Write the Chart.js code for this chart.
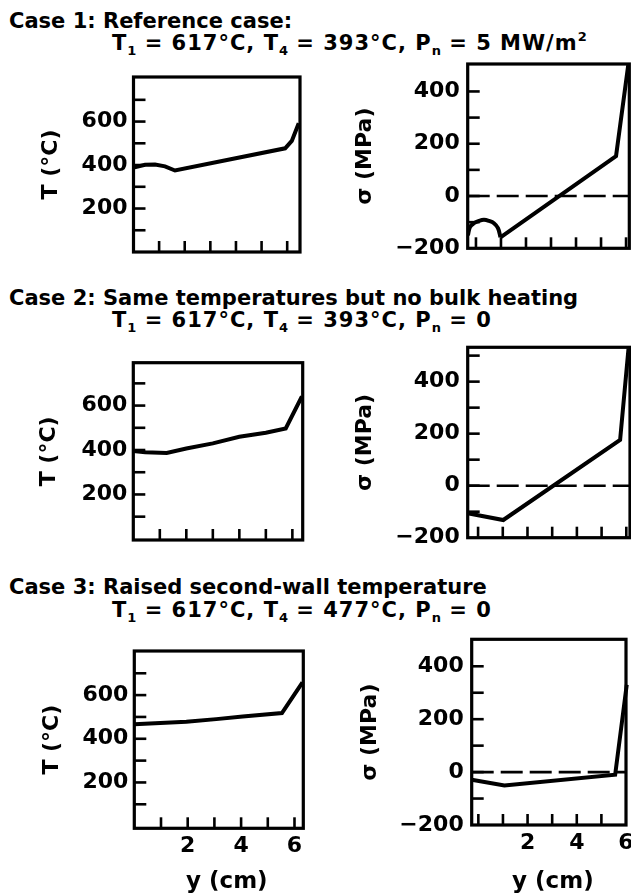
<!DOCTYPE html>
<html><head><meta charset="utf-8">
<script src="https://cdn.jsdelivr.net/npm/chart.js@4.4.1/dist/chart.umd.min.js"></script>
<style>
html,body{margin:0;padding:0;width:631px;height:894px;overflow:hidden;background:#fff;}
.t{position:absolute;font-family:"DejaVu Sans";font-weight:bold;font-size:21px;color:#000;white-space:nowrap;line-height:26px;}
.t2{letter-spacing:1px;}
.t sub{font-size:13px;vertical-align:-5px;line-height:0;letter-spacing:0;}
.t sup{font-size:13px;vertical-align:9px;line-height:0;letter-spacing:0;}
canvas{position:absolute;}
</style></head><body>
<div class="t" style="left:9px;top:8px">Case 1: Reference case:</div>
<div class="t t2" style="left:112px;top:30px">T<sub>1</sub> = 617°C, T<sub>4</sub> = 393°C, P<sub>n</sub> = 5 MW/m<sup>2</sup></div>
<div class="t" style="left:9px;top:285px">Case 2: Same temperatures but no bulk heating</div>
<div class="t t2" style="left:112px;top:307px">T<sub>1</sub> = 617°C, T<sub>4</sub> = 393°C, P<sub>n</sub> = 0</div>
<div class="t" style="left:9px;top:574px">Case 3: Raised second-wall temperature</div>
<div class="t t2" style="left:112px;top:597px">T<sub>1</sub> = 617°C, T<sub>4</sub> = 477°C, P<sub>n</sub> = 0</div>
<canvas id="c1t"></canvas><canvas id="c1s"></canvas>
<canvas id="c2t"></canvas><canvas id="c2s"></canvas>
<canvas id="c3t"></canvas><canvas id="c3s"></canvas>
<script>
// ---- ticks and tick labels ----
const T_ticks = [0, 100, 200, 300, 400, 500, 600, 700, 800];
const S_ticks = [-200, -100, 0, 100, 200, 300, 400, 500];
const X_ticks = [0, 1, 2, 3, 4, 5, 6];
const T_tickLabels = [200, 400, 600];
const S_tickLabels = [-200, 0, 200, 400];
const X_tickLabels = [2, 4, 6];

// ---- data (y in cm, T in °C, sigma in MPa) ----
const case1_T_y = [0, 0.45, 0.84, 1.23, 1.62, 5.92, 6.18, 6.45];
const case1_T   = [388, 401, 402, 394, 375, 477, 511, 592];
const case1_S_arc_y = [-0.32, -0.24, -0.08, 0.12, 0.32, 0.52, 0.72, 0.88, 0.98];
const case1_S_arc   = [-150, -119, -104, -95, -91, -95, -104, -123, -158];
const case1_S_y = [0.98, 5.6, 6.1];
const case1_S   = [-158, 153, 510];

const case2_T_y = [0, 0.45, 1.26, 2.0, 3.0, 4.0, 5.0, 5.75, 6.36];
const case2_T   = [395, 390, 387, 407, 430, 460, 478, 497, 641];
const case2_S_y = [-0.42, 1.02, 5.75, 6.09];
const case2_S   = [-106, -132, 176, 528];

const case3_T_y = [0, 1.95, 3.07, 4.06, 5.53, 6.3];
const case3_T   = [467, 478, 490, 502, 518, 658];
const case3_S_y = [-0.27, 1.06, 5.56, 6.03];
const case3_S   = [-29, -51, -10, 330];

// ---- helpers ----
const tickFont = {family: 'DejaVu Sans', size: 22, weight: 'bold'};
const titleFont = {family: 'DejaVu Sans', size: 22, weight: 'bold'};
const xTitleFont = {family: 'DejaVu Sans', size: 23, weight: 'bold'};
const fmt = v => v < 0 ? '\u2212' + Math.abs(v) : String(v);

const boxTicks = {
  id: 'boxTicks',
  afterDatasetsDraw(chart) {
    const {ctx, chartArea: a, scales} = chart;
    const xs = scales.x, ys = scales.y;
    ctx.save();
    ctx.strokeStyle = '#000';
    ctx.lineWidth = 2.6;
    ys.ticks.forEach(t => {
      const p = ys.getPixelForValue(t.value);
      if (p < a.top + 6 || p > a.bottom - 6) return;
      ctx.beginPath(); ctx.moveTo(a.left, p); ctx.lineTo(a.left + 12, p); ctx.stroke();
    });
    xs.ticks.forEach(t => {
      const p = xs.getPixelForValue(t.value);
      if (p < a.left + 5 || p > a.right - 2) return;
      ctx.beginPath(); ctx.moveTo(p, a.bottom); ctx.lineTo(p, a.bottom - 11); ctx.stroke();
    });
    ctx.lineWidth = 3.2;
    ctx.strokeRect(a.left, a.top, a.right - a.left, a.bottom - a.top);
    ctx.restore();
  }
};

const series = (xs, ys, extra) => Object.assign({
  data: xs.map((x, i) => ({x: x, y: ys[i]})),
  borderColor: '#000', borderWidth: 4, pointRadius: 0, tension: 0, fill: false
}, extra || {});
const zeroLine = P => ({
  data: [{x: P.x[0], y: 0}, {x: P.x[1], y: 0}],
  borderColor: '#000', borderWidth: 2.6, borderDash: [22, 7], pointRadius: 0, fill: false
});
const setTicks = (list) => (scale) => {
  scale.ticks = list.filter(v => v >= scale.min - 1e-9 && v <= scale.max + 1e-9).map(v => ({value: v}));
};

function makeChart(id, P, datasets) {
  const cv = document.getElementById(id);
  cv.width = P.cw; cv.height = P.ch;
  cv.style.left = P.cl + 'px'; cv.style.top = P.ct + 'px';
  const yw = P.box.l - P.cl;
  const pad = {left: 0, top: P.box.t - P.ct, right: P.cl + P.cw - P.box.r, bottom: P.ct + P.ch - P.box.b - P.xh};
  const lh = titleFont.size * 1.2;
  new Chart(cv, {
    type: 'line',
    data: {datasets: datasets},
    options: {
      responsive: false, animation: false, devicePixelRatio: 1,
      layout: {padding: pad},
      plugins: {legend: {display: false}, tooltip: {enabled: false}},
      scales: {
        x: {
          type: 'linear', min: P.x[0], max: P.x[1],
          grid: {display: false, drawTicks: false}, border: {display: false},
          afterBuildTicks: setTicks(X_ticks),
          ticks: {autoSkip: false, maxRotation: 0, display: !!P.xLabels, padding: 5,
                  color: '#000', font: tickFont,
                  callback: v => X_tickLabels.includes(v) ? String(v) : ''},
          title: {display: !!P.xTitle, text: P.xTitle || '', color: '#000',
                  font: xTitleFont, padding: {top: 0, bottom: 4}},
          afterFit: s => { s.height = P.xh; s.paddingLeft = 0; s.paddingRight = 0; }
        },
        y: {
          type: 'linear', min: P.y[0], max: P.y[1],
          grid: {display: false, drawTicks: false}, border: {display: false},
          afterBuildTicks: setTicks(P.ticks),
          ticks: {autoSkip: false, padding: P.tickPad, color: '#000', font: tickFont,
                  callback: v => P.labels.includes(v) ? fmt(v) : ''},
          title: {display: true, text: P.yTitle, color: '#000', font: titleFont,
                  padding: {top: P.yTitleX - P.cl - lh / 2, bottom: 0}},
          afterFit: s => { s.width = yw; s.paddingTop = 0; s.paddingBottom = 0; }
        }
      }
    },
    plugins: [boxTicks]
  });
}

// ---- panel layout ----
const L1T = {cl: 0, cw: 312, ct: 67, ch: 197, xh: 12, box: {l: 133.5, t: 77, r: 300, b: 252},
  x: [0, 6.5], y: [0, 805], ticks: T_ticks, labels: T_tickLabels, tickPad: 6, yTitle: 'T (°C)', yTitleX: 51};
const L1S = {cl: 320, cw: 330, ct: 54, ch: 206, xh: 12, box: {l: 467.7, t: 64, r: 629.3, b: 248.3},
  x: [-0.33, 6.13], y: [-200, 505], ticks: S_ticks, labels: S_tickLabels, tickPad: 8, yTitle: 'σ (MPa)', yTitleX: 365};
const L2T = {cl: 0, cw: 314, ct: 352, ch: 200, xh: 12, box: {l: 133.3, t: 362.7, r: 302.7, b: 540},
  x: [0, 6.39], y: [-5, 793], ticks: T_ticks, labels: T_tickLabels, tickPad: 6, yTitle: 'T (°C)', yTitleX: 49};
const L2S = {cl: 320, cw: 330, ct: 337, ch: 213, xh: 12, box: {l: 467.7, t: 347.3, r: 630, b: 537.7},
  x: [-0.42, 6.15], y: [-200, 532], ticks: S_ticks, labels: S_tickLabels, tickPad: 8, yTitle: 'σ (MPa)', yTitleX: 365};
const L3T = {cl: 0, cw: 314, ct: 641, ch: 259, xh: 900 - 828.3, box: {l: 134.3, t: 651, r: 303.3, b: 828.3},
  x: [0, 6.33], y: [-10, 802], ticks: T_ticks, labels: T_tickLabels, tickPad: 6, yTitle: 'T (°C)', yTitleX: 52,
  xLabels: true, xTitle: '  y (cm)'};
const L3S = {cl: 320, cw: 330, ct: 629, ch: 271, xh: 900 - 825, box: {l: 471.7, t: 639.3, r: 626, b: 825},
  x: [-0.27, 6.0], y: [-200, 502], ticks: S_ticks, labels: S_tickLabels, tickPad: 8, yTitle: 'σ (MPa)', yTitleX: 370,
  xLabels: true, xTitle: ' y (cm)'};

makeChart('c1t', L1T, [series(case1_T_y, case1_T)]);
makeChart('c1s', L1S, [zeroLine(L1S), series(case1_S_arc_y, case1_S_arc, {tension: 0.4}), series(case1_S_y, case1_S)]);
makeChart('c2t', L2T, [series(case2_T_y, case2_T)]);
makeChart('c2s', L2S, [zeroLine(L2S), series(case2_S_y, case2_S)]);
makeChart('c3t', L3T, [series(case3_T_y, case3_T)]);
makeChart('c3s', L3S, [zeroLine(L3S), series(case3_S_y, case3_S, {clip: {left: 0, top: 0, right: 6, bottom: 0}})]);
</script>
</body></html>
